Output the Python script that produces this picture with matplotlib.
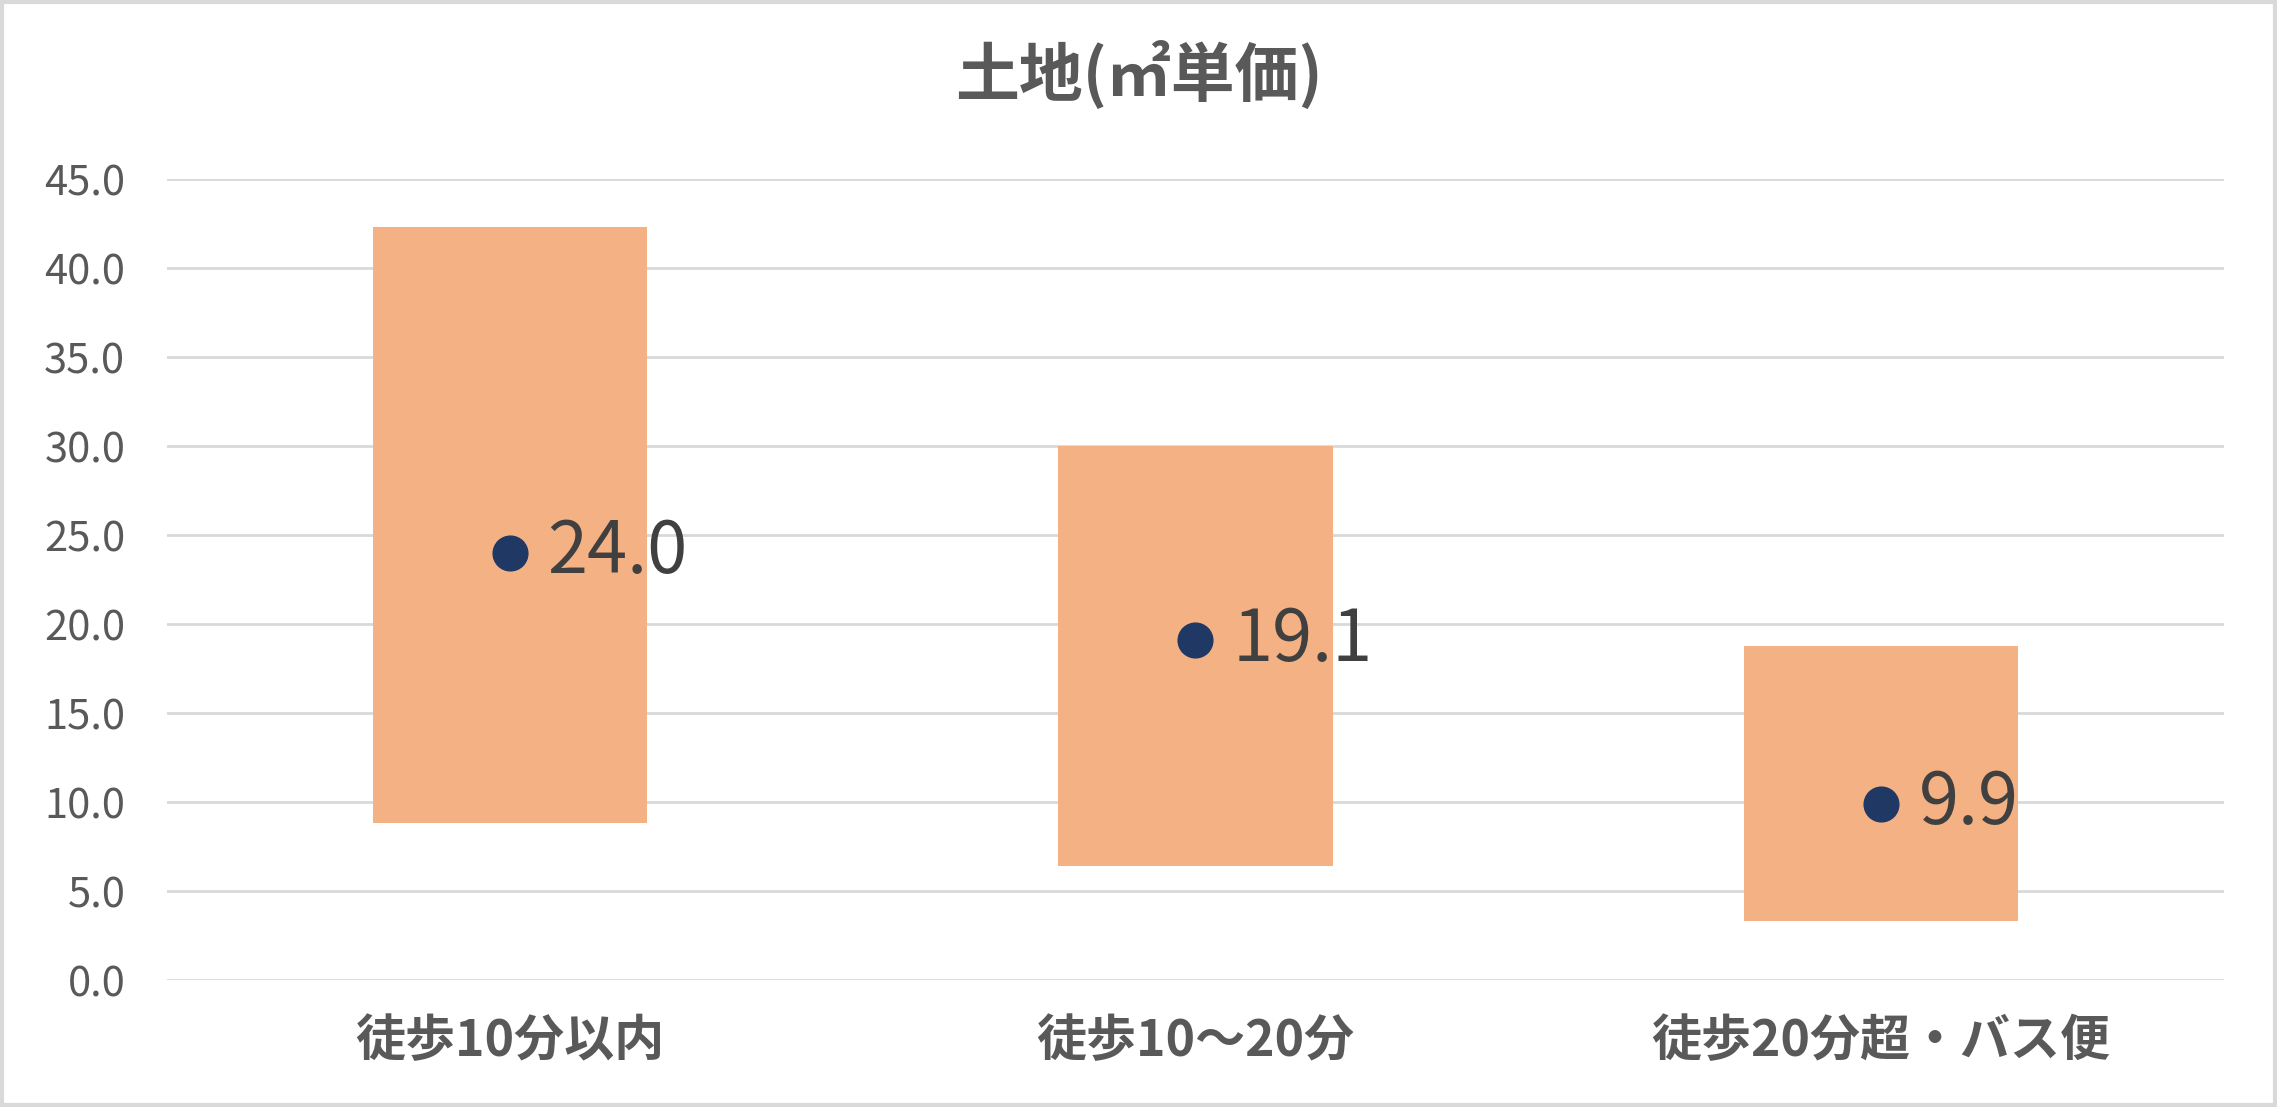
import matplotlib.pyplot as plt
from matplotlib.patches import Rectangle

# データ
categories = ["徒歩10分以内", "徒歩10～20分", "徒歩20分超・バス便"]
low = [8.8, 6.4, 3.3]
high = [42.3, 30.0, 18.8]
avg = [24.0, 19.1, 9.9]
yticks = [0, 5, 10, 15, 20, 25, 30, 35, 40, 45]

plt.rcParams['font.family'] = ['Noto Sans CJK JP', 'DejaVu Sans']

fig = plt.figure(figsize=(22.77, 11.07), dpi=100)
ax = fig.add_axes([0.0733, 0.1147, 0.9034, 0.7233])

x = range(len(categories))
heights = [h - l for h, l in zip(high, low)]
ax.bar(x, heights, bottom=low, width=0.4, color='#F4B183', zorder=2)
ax.plot(x, avg, 'o', color='#1F3864', markersize=25, zorder=3)
for i, v in enumerate(avg):
    ax.annotate(f"{v:.1f}", (i, v), xytext=(27, 0), textcoords='offset points',
                ha='left', va='center', fontsize=52, color='#404040', zorder=4)

ax.set_xlim(-0.5, len(categories) - 0.5)
ax.set_ylim(0, 45)
ax.set_yticks(yticks)
ax.set_yticklabels([f"{t:.1f}" for t in yticks], fontsize=30, color='#595959')
ax.set_xticks(list(x))
ax.set_xticklabels(categories, fontsize=36, color='#595959', fontweight='bold')
ax.tick_params(axis='both', length=0)
ax.tick_params(axis='y', pad=30)
ax.tick_params(axis='x', pad=26)
ax.grid(axis='y', color='#D9D9D9', linewidth=2, zorder=0)
ax.set_axisbelow(True)
for s in ax.spines.values():
    s.set_visible(False)

fig.text(0.5, 0.932, "土地(㎡単価)", ha='center', va='center',
         fontsize=46, fontweight='bold', color='#595959')

fig.patches.append(Rectangle((0.001, 0.002), 0.998, 0.996, transform=fig.transFigure,
                             fill=False, edgecolor='#D9D9D9', linewidth=3))

fig.savefig('out.png', dpi=100)
